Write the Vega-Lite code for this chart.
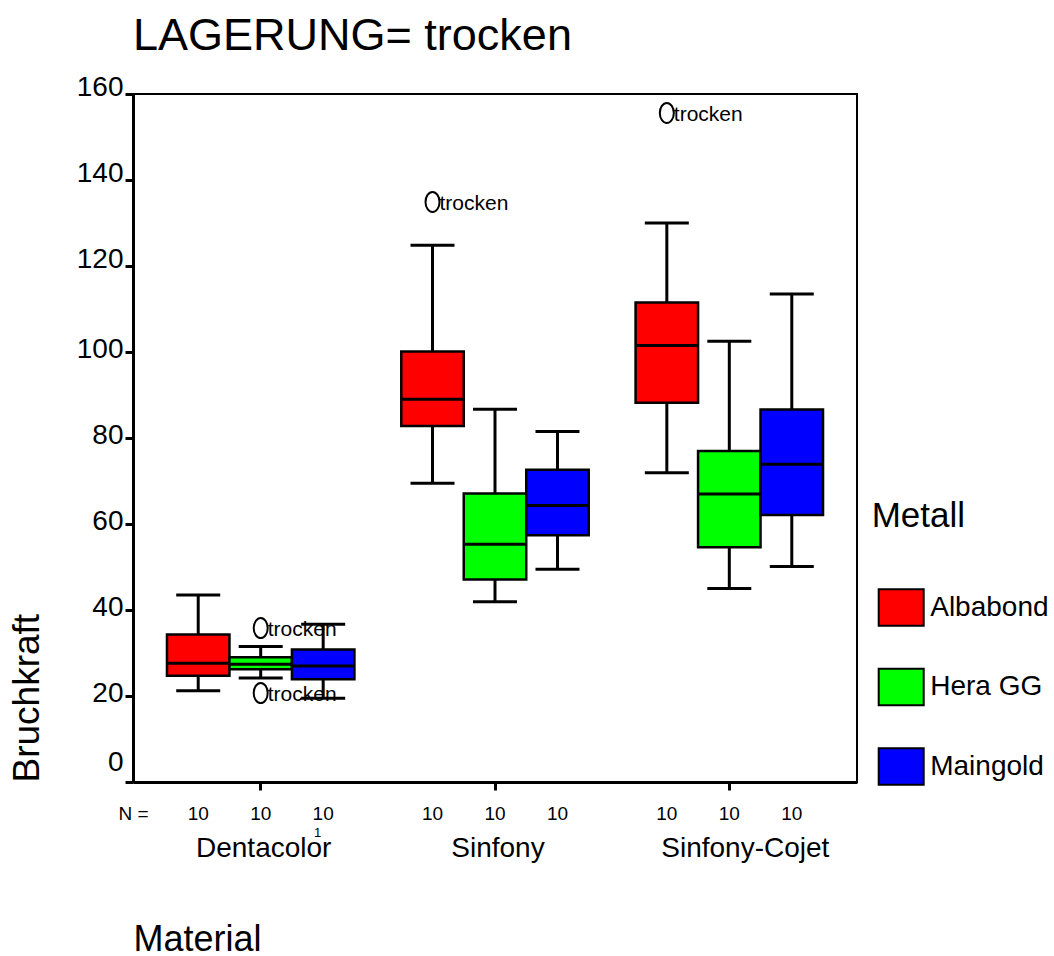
{
  "$schema": "https://vega.github.io/schema/vega-lite/v6.json",
  "width": 724,
  "height": 688,
  "autosize": {"type": "none"},
  "padding": {"left": 133, "top": 94, "right": 197, "bottom": 174},
  "background": "white",
  "title": {"text": "LAGERUNG= trocken", "anchor": "start", "frame": "group", "fontSize": 45, "fontWeight": "normal", "color": "black", "baseline": "alphabetic", "offset": 27, "dy": 49},
  "config": {
    "font": "Liberation Sans",
    "view": {"stroke": "black", "strokeWidth": 2},
    "axis": {"domainColor": "black", "domainWidth": 3, "tickColor": "black", "tickWidth": 3, "tickSize": 8, "labelColor": "black", "titleColor": "black", "grid": false, "titleFontWeight": "normal", "labelFont": "Liberation Sans", "titleFont": "Liberation Sans"},
    "legend": {"padding": 0, "labelFont": "Liberation Sans", "titleFont": "Liberation Sans"}
  },
  "datasets": {
    "boxes": [
      {"Material": "Dentacolor", "Metall": "Albabond", "lower": 21.2, "q1": 24.7, "median": 27.6, "q3": 34.3, "upper": 43.5, "n": 10},
      {"Material": "Dentacolor", "Metall": "Hera GG", "lower": 24.2, "q1": 26.2, "median": 27.4, "q3": 29.0, "upper": 31.5, "n": 10},
      {"Material": "Dentacolor", "Metall": "Maingold", "lower": 19.5, "q1": 23.9, "median": 27.0, "q3": 30.8, "upper": 36.7, "n": 10},
      {"Material": "Sinfony", "Metall": "Albabond", "lower": 69.5, "q1": 82.8, "median": 89.0, "q3": 100.1, "upper": 124.8, "n": 10},
      {"Material": "Sinfony", "Metall": "Hera GG", "lower": 41.9, "q1": 47.1, "median": 55.3, "q3": 67.1, "upper": 86.7, "n": 10},
      {"Material": "Sinfony", "Metall": "Maingold", "lower": 49.5, "q1": 57.4, "median": 64.3, "q3": 72.6, "upper": 81.5, "n": 10},
      {"Material": "Sinfony-Cojet", "Metall": "Albabond", "lower": 71.9, "q1": 88.2, "median": 101.5, "q3": 111.5, "upper": 130.0, "n": 10},
      {"Material": "Sinfony-Cojet", "Metall": "Hera GG", "lower": 45.0, "q1": 54.6, "median": 67.0, "q3": 77.0, "upper": 102.5, "n": 10},
      {"Material": "Sinfony-Cojet", "Metall": "Maingold", "lower": 50.1, "q1": 62.1, "median": 73.9, "q3": 86.6, "upper": 113.5, "n": 10}
    ],
    "outliers": [
      {"Material": "Dentacolor", "Metall": "Hera GG", "value": 35.8, "label": "trocken"},
      {"Material": "Dentacolor", "Metall": "Hera GG", "value": 20.7, "label": "trocken"},
      {"Material": "Sinfony", "Metall": "Albabond", "value": 134.9, "label": "trocken"},
      {"Material": "Sinfony-Cojet", "Metall": "Albabond", "value": 155.6, "label": "trocken"}
    ],
    "nlab": [{"Material": "Dentacolor", "label": "N ="}],
    "sup": [{"Material": "Dentacolor", "label": "1"}]
  },
  "layer": [
    {
      "data": {"name": "boxes"},
      "mark": {"type": "rule", "strokeWidth": 3, "color": "black"},
      "encoding": {
        "x": {"field": "Material", "type": "nominal", "sort": ["Dentacolor", "Sinfony", "Sinfony-Cojet"],
          "scale": {"paddingInner": 0.2, "paddingOuter": 0.145},
          "axis": {"title": "Material", "titleFontSize": 36, "titleX": 0, "titleY": 168, "titleAlign": "left", "titleBaseline": "alphabetic", "titleAnchor": "start", "titleAngle": 0,
            "labelFontSize": 28, "labelAngle": 0, "labelPadding": 44, "labelBaseline": "top",
            "labelOffset": {"condition": {"test": "datum.value == 'Sinfony-Cojet'", "value": 16}, "value": 3}}},
        "xOffset": {"field": "Metall", "type": "nominal", "sort": ["Albabond", "Hera GG", "Maingold"], "scale": {"paddingInner": 0, "paddingOuter": 0}},
        "y": {"field": "lower", "type": "quantitative", "scale": {"domain": [0, 160], "nice": false},
          "axis": {"title": "Bruchkraft", "titleFontSize": 37, "titleX": -95, "titleY": 688, "titleAngle": -90, "titleAlign": "left", "titleBaseline": "alphabetic",
            "values": [0, 20, 40, 60, 80, 100, 120, 140, 160], "labelFontSize": 28, "labelPadding": 2, "labelBaseline": "middle",
            "labelOffset": {"condition": [{"test": "datum.value == 0", "value": -20}, {"test": "datum.value >= 120", "value": -7}], "value": -3}}},
        "y2": {"field": "upper"}
      }
    },
    {
      "data": {"name": "boxes"},
      "mark": {"type": "bar", "stroke": "black", "strokeWidth": 2.5, "opacity": 1},
      "encoding": {
        "x": {"field": "Material", "type": "nominal", "sort": ["Dentacolor", "Sinfony", "Sinfony-Cojet"]},
        "xOffset": {"field": "Metall", "type": "nominal", "sort": ["Albabond", "Hera GG", "Maingold"]},
        "y": {"field": "q1", "type": "quantitative"},
        "y2": {"field": "q3"},
        "color": {"field": "Metall", "type": "nominal", "sort": ["Albabond", "Hera GG", "Maingold"],
          "scale": {"domain": ["Albabond", "Hera GG", "Maingold"], "range": ["#ff0000", "#00ff00", "#0000ff"]},
          "legend": {"title": "Metall", "orient": "none", "legendX": 738.7, "legendY": 405, "titleFontSize": 35, "titleFontWeight": "normal", "titleColor": "black", "titlePadding": 50,
            "labelFontSize": 28, "labelColor": "black", "labelOffset": 5.5, "rowPadding": 33.5,
            "symbolType": "M-1,-0.815L1,-0.815L1,0.815L-1,0.815Z", "symbolSize": 2025, "symbolStrokeColor": "black", "symbolStrokeWidth": 2, "symbolOpacity": 1, "symbolOffset": 6}}
      }
    },
    {
      "data": {"name": "boxes"},
      "mark": {"type": "tick", "color": "black", "size": 62, "thickness": 3, "opacity": 1},
      "encoding": {
        "x": {"field": "Material", "type": "nominal", "sort": ["Dentacolor", "Sinfony", "Sinfony-Cojet"]},
        "xOffset": {"field": "Metall", "type": "nominal", "sort": ["Albabond", "Hera GG", "Maingold"]},
        "y": {"field": "median", "type": "quantitative"}
      }
    },
    {
      "data": {"name": "boxes"},
      "mark": {"type": "tick", "color": "black", "size": 44, "thickness": 3, "opacity": 1},
      "encoding": {
        "x": {"field": "Material", "type": "nominal", "sort": ["Dentacolor", "Sinfony", "Sinfony-Cojet"]},
        "xOffset": {"field": "Metall", "type": "nominal", "sort": ["Albabond", "Hera GG", "Maingold"]},
        "y": {"field": "upper", "type": "quantitative"}
      }
    },
    {
      "data": {"name": "boxes"},
      "mark": {"type": "tick", "color": "black", "size": 44, "thickness": 3, "opacity": 1},
      "encoding": {
        "x": {"field": "Material", "type": "nominal", "sort": ["Dentacolor", "Sinfony", "Sinfony-Cojet"]},
        "xOffset": {"field": "Metall", "type": "nominal", "sort": ["Albabond", "Hera GG", "Maingold"]},
        "y": {"field": "lower", "type": "quantitative"}
      }
    },
    {
      "data": {"name": "outliers"},
      "mark": {"type": "point", "shape": "M0,-1A0.7,1 0 1,1 0,1A0.7,1 0 1,1 0,-1Z", "size": 400, "filled": false, "stroke": "black", "strokeWidth": 2, "opacity": 1},
      "encoding": {
        "x": {"field": "Material", "type": "nominal", "sort": ["Dentacolor", "Sinfony", "Sinfony-Cojet"]},
        "xOffset": {"field": "Metall", "type": "nominal", "sort": ["Albabond", "Hera GG", "Maingold"]},
        "y": {"field": "value", "type": "quantitative"}
      }
    },
    {
      "data": {"name": "outliers"},
      "mark": {"type": "text", "align": "left", "baseline": "middle", "dx": 7, "dy": 2, "fontSize": 21, "color": "black"},
      "encoding": {
        "x": {"field": "Material", "type": "nominal", "sort": ["Dentacolor", "Sinfony", "Sinfony-Cojet"]},
        "xOffset": {"field": "Metall", "type": "nominal", "sort": ["Albabond", "Hera GG", "Maingold"]},
        "y": {"field": "value", "type": "quantitative"},
        "text": {"field": "label"}
      }
    },
    {
      "data": {"name": "boxes"},
      "mark": {"type": "text", "align": "center", "baseline": "alphabetic", "dy": 38, "fontSize": 19, "color": "black"},
      "encoding": {
        "x": {"field": "Material", "type": "nominal", "sort": ["Dentacolor", "Sinfony", "Sinfony-Cojet"]},
        "xOffset": {"field": "Metall", "type": "nominal", "sort": ["Albabond", "Hera GG", "Maingold"]},
        "y": {"datum": 0},
        "text": {"field": "n"}
      }
    },
    {
      "data": {"name": "nlab"},
      "mark": {"type": "text", "align": "right", "baseline": "alphabetic", "dx": -112, "dy": 38, "fontSize": 19, "color": "black"},
      "encoding": {
        "x": {"field": "Material", "type": "nominal", "sort": ["Dentacolor", "Sinfony", "Sinfony-Cojet"]},
        "y": {"datum": 0},
        "text": {"field": "label"}
      }
    },
    {
      "data": {"name": "sup"},
      "mark": {"type": "text", "align": "center", "baseline": "alphabetic", "dx": 57, "dy": 55, "fontSize": 13, "color": "black"},
      "encoding": {
        "x": {"field": "Material", "type": "nominal", "sort": ["Dentacolor", "Sinfony", "Sinfony-Cojet"]},
        "y": {"datum": 0},
        "text": {"field": "label"}
      }
    }
  ]
}
